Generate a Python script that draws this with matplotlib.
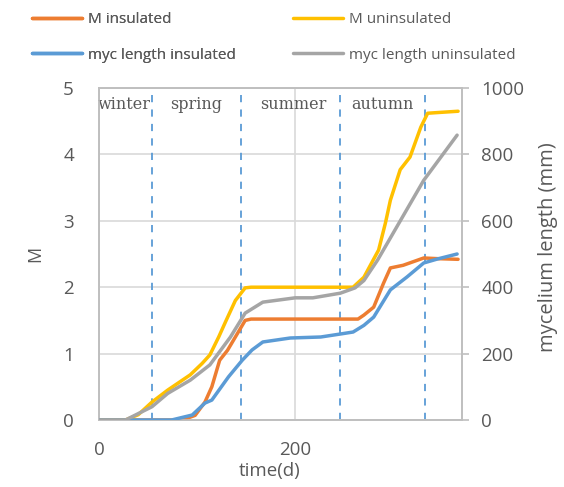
import matplotlib
matplotlib.use("Agg")
import matplotlib.pyplot as plt

# ---- data ----
t_m_unins = [0, 27, 40, 54, 70, 93, 105, 113, 122, 129, 139, 149, 155, 200, 259, 270, 285, 292, 297, 307, 317, 328, 335, 345, 366]
m_unins   = [0, 0, 0.08, 0.27, 0.45, 0.68, 0.85, 0.98, 1.25, 1.48, 1.80, 1.99, 2.0, 2.0, 2.0, 2.15, 2.56, 2.97, 3.31, 3.77, 3.96, 4.41, 4.62, 4.63, 4.65]

t_m_ins = [0, 85, 98, 108, 115, 123, 131, 139, 149, 155, 264, 270, 280, 290, 297, 310, 331, 345, 366]
m_ins   = [0, 0, 0.07, 0.27, 0.5, 0.9, 1.05, 1.25, 1.5, 1.52, 1.52, 1.58, 1.7, 2.06, 2.29, 2.33, 2.44, 2.43, 2.42]

t_myc_unins = [0, 27, 54, 70, 93, 113, 134, 149, 167, 200, 218, 246, 261, 270, 284, 331, 365]
myc_unins   = [0, 0, 40, 80, 120, 166, 250, 322, 355, 368, 368, 382, 398, 420, 482, 722, 858]

t_myc_ins = [0, 74, 95, 108, 115, 132, 146, 156, 167, 195, 226, 246, 259, 270, 280, 297, 314, 331, 345, 365]
myc_ins   = [0, 0, 15, 51, 60, 130, 180, 211, 235, 247, 250, 259, 265, 285, 310, 392, 431, 473, 485, 500]

season_bounds = [54, 145, 246, 332]
seasons = ["winter", "spring", "summer", "autumn"]
season_center = [26, 99, 198, 289]

xticks = [0, 200]
m_ticks = [0, 1, 2, 3, 4, 5]
len_ticks = [0, 200, 400, 600, 800, 1000]

# ---- styling ----
C_ORANGE = "#ED7D31"
C_YELLOW = "#FFC000"
C_BLUE = "#5B9BD5"
C_GRAY = "#A5A5A5"
TXT = "#595959"
GRID = "#D9D9D9"
SPINE = "#BFBFBF"
FONT = "Open Sans"

plt.rcParams["font.family"] = [FONT, "DejaVu Sans"]

fig = plt.figure(figsize=(5.64, 4.87), dpi=100)
ax = fig.add_axes([99/564, 1-420/487, (462-99)/564, (420-88)/487])
ax2 = ax.twinx()

ax.set_xlim(0, 370)
ax.set_ylim(0, 5)
ax2.set_ylim(0, 1000)

ax.set_xticks(xticks)
ax.set_yticks(m_ticks)
ax2.set_yticks(len_ticks)

ax.grid(True, color=GRID, linewidth=1.2)
ax.set_axisbelow(True)

for b in season_bounds:
    ax.axvline(b, color=C_BLUE, linestyle=(0, (4, 4)), linewidth=1.3, zorder=1)

lw = 2.5
l_ins, = ax.plot(t_m_ins, m_ins, color=C_ORANGE, lw=lw, zorder=3, solid_capstyle="round")
l_unins, = ax.plot(t_m_unins, m_unins, color=C_YELLOW, lw=lw, zorder=3, solid_capstyle="round")
l_myc_ins, = ax2.plot(t_myc_ins, myc_ins, color=C_BLUE, lw=lw, zorder=3, solid_capstyle="round")
l_myc_unins, = ax2.plot(t_myc_unins, myc_unins, color=C_GRAY, lw=lw, zorder=3, solid_capstyle="round")

for a in (ax, ax2):
    for s in a.spines.values():
        s.set_color(SPINE)
        s.set_linewidth(1.2)

TICK_FS = 13.5
ax.tick_params(axis="both", length=0, labelsize=TICK_FS, colors=TXT)
ax.tick_params(axis="y", pad=18)
ax.tick_params(axis="x", pad=15)
ax2.tick_params(axis="y", length=5, width=1.2, color=SPINE, labelsize=TICK_FS,
                labelcolor=TXT, pad=9)

ax.set_xlabel("time(d)", fontsize=13.5, color=TXT)
ax.xaxis.set_label_coords(0.47, -0.155, transform=ax.transAxes)
ax.xaxis.label.set_va("center")
ax.set_ylabel("M", fontsize=13, color=TXT, labelpad=14)
ax2.set_ylabel("mycelium length (mm)", fontsize=14.5, color=TXT)
ax2.yaxis.set_label_coords(1.238, 0.52, transform=ax.transAxes)
ax2.yaxis.label.set_va("center")

for name, xc in zip(seasons, season_center):
    ax.text(xc, 4.88, name, ha="center", va="top", fontsize=11.5,
            family="DejaVu Serif", color=TXT, zorder=4)

# legend: two columns placed explicitly
leg_kw = dict(loc="upper left", frameon=False, fontsize=11, handlelength=3.3,
              handletextpad=0.35, labelspacing=1.35, borderpad=0, borderaxespad=0,
              labelcolor=TXT)
leg1 = fig.legend([l_ins, l_myc_ins], ["M insulated", "myc length insulated"],
                  bbox_to_anchor=(32/564, 1 - 12/487), **leg_kw)
fig.add_artist(leg1)
fig.legend([l_unins, l_myc_unins], ["M uninsulated", "myc length uninsulated"],
           bbox_to_anchor=(293/564, 1 - 12/487), **leg_kw)

fig.savefig("out.png", dpi=100)
